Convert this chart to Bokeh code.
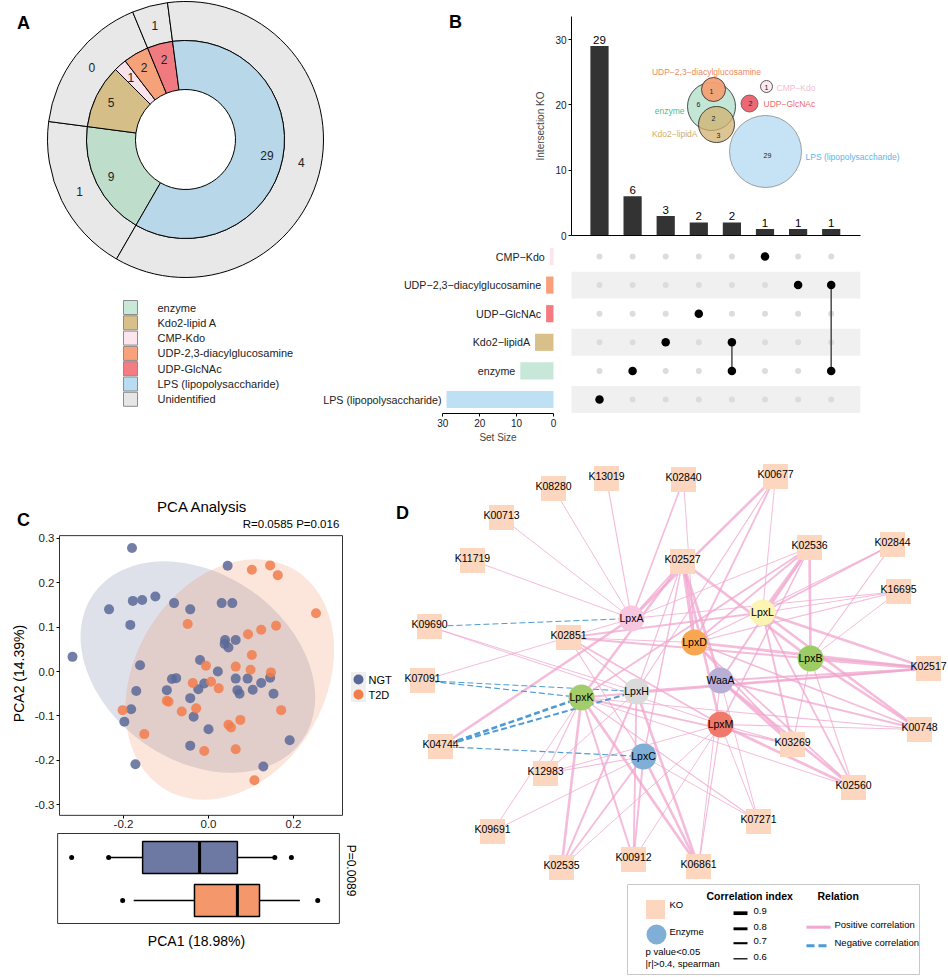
import numpy as np
from bokeh.plotting import figure
from bokeh.models import Range1d, LinearAxis, FixedTicker, PrintfTickFormatter, ColumnDataSource
from bokeh.core.properties import value
from bokeh.embed import file_html
from bokeh.resources import INLINE

FONT = "Liberation Sans"

# ================= DATA =================
# ---- Panel A : donut ----
pie_labels = ["enzyme", "Kdo2-lipid A", "CMP-Kdo", "UDP-2,3-diacylglucosamine",
              "UDP-GlcNAc", "LPS (lipopolysaccharide)"]
pie_values = [9, 5, 1, 2, 2, 29]
pie_colors = ["#BFDDCB", "#D6BE88", "#F9E3EB", "#F5A27B", "#F17A81", "#B8D8EA"]
outer_members = [[0], [1, 2, 3], [4], [5]]      # inner categories covered by each outer segment
outer_values = [1, 0, 1, 4]                     # unidentified counts
unident_color = "#E8E8E8"
legend_a_labels = pie_labels + ["Unidentified"]
legend_a_colors = ["#C8E8D8", "#D9C08A", "#FCE6EE", "#F7A27A", "#F47C84", "#B9DCF2", "#E6E6E6"]

# ---- Panel B : UpSet ----
set_names = ["CMP\u2212Kdo", "UDP\u22122,3\u2212diacylglucosamine", "UDP\u2212GlcNAc",
             "Kdo2\u2212lipidA", "enzyme", "LPS (lipopolysaccharide)"]
set_sizes = [1, 2, 2, 5, 9, 29]
set_colors = ["#FCE4EC", "#F8A07A", "#F47B82", "#D9C08A", "#C7E8D8", "#BEE0F5"]
inter_sizes = [29, 6, 3, 2, 2, 1, 1, 1]
inter_sets = [[5], [4], [3], [2], [3, 4], [0], [1], [1, 4]]   # indices into set_names
venn_names = ["enzyme", "Kdo2\u2212lipidA", "UDP\u22122,3\u2212diacylglucosamine",
              "LPS (lipopolysaccharide)", "CMP\u2212Kdo", "UDP\u2212GlcNAc"]
venn_region_counts = ["6", "2", "3", "1", "29", "1", "2"]

# ---- Panel C : PCA ----
ngt_pc1 = [-0.180, 0.045, -0.234, -0.178, -0.156, -0.125, -0.081, -0.184, -0.043, 0.031, 0.056,
           -0.320, -0.161, 0.039, 0.064, 0.038, 0.047, -0.020, 0.022, -0.086, -0.076, -0.170,
           -0.098, -0.024, -0.010, -0.043, 0.064, 0.092, 0.068, 0.073, 0.104, 0.124, 0.145,
           0.153, -0.182, -0.198, -0.035, 0.000, -0.043, 0.191, -0.172, 0.129]
ngt_pc2 = [0.278, 0.238, 0.140, 0.159, 0.161, 0.169, 0.154, 0.105, 0.140, 0.154, 0.154,
           0.033, 0.014, 0.071, 0.071, 0.062, 0.054, 0.026, 0.000, -0.017, -0.015, -0.044,
           -0.042, -0.040, -0.027, -0.060, -0.016, -0.016, -0.042, -0.050, -0.041, -0.026,
           -0.014, -0.050, -0.085, -0.113, -0.102, -0.130, -0.167, -0.155, -0.209, -0.214]
t2d_pc1 = [0.102, 0.145, 0.163, 0.253, -0.049, 0.093, 0.124, 0.159, 0.102, -0.006, 0.064,
           0.099, 0.147, -0.037, 0.006, 0.024, -0.094, -0.098, -0.202, -0.063, -0.029, 0.171,
           -0.151, 0.047, 0.053, 0.075, -0.010, 0.064, 0.108]
t2d_pc2 = [0.229, 0.239, 0.217, 0.131, 0.107, 0.084, 0.094, 0.103, 0.037, 0.013, 0.011,
           0.004, -0.002, -0.026, -0.023, -0.038, -0.068, -0.066, -0.087, -0.090, -0.083,
           -0.087, -0.141, -0.120, -0.126, -0.109, -0.179, -0.175, -0.245]
# confidence ellipses: centre x, centre y, semi-major, semi-minor, angle (deg)
ell_ngt = [-0.025, 0.010, 0.300, 0.210, -35]
ell_t2d = [0.050, -0.018, 0.300, 0.215, 60]
groups = ["NGT", "T2D"]
group_colors = ["#5A6898", "#F27C4C"]
box_fill = ["#6D79A3", "#F4976A"]
# boxplot of PCA1: low whisker, q1, median, q3, high whisker
box_stats = [[-0.235, -0.155, -0.021, 0.068, 0.156],
             [-0.176, -0.033, 0.068, 0.120, 0.215]]
box_points = [[-0.322, -0.235, 0.156, 0.195], [-0.202, 0.257]]

# ---- Panel D : network ----
ko_names = ["K13019", "K08280", "K02840", "K00677", "K00713", "K11719", "K02527", "K02536",
            "K02844", "K16695", "K09690", "K02851", "K02517", "K07091", "K00748", "K04744",
            "K03269", "K12983", "K02560", "K07271", "K09691", "K02535", "K00912", "K06861"]
enzyme_names = ["LpxA", "LpxL", "LpxD", "LpxB", "WaaA", "LpxK", "LpxH", "LpxM", "LpxC"]
enzyme_colors = ["#F7C6DF", "#FBF4B3", "#F9A650", "#9DCB64", "#B8AED6", "#A2CD6A",
                 "#DADADA", "#F0796B", "#7FAED7"]
edge_ko = ["K13019", "K08280", "K02840", "K02840", "K00677", "K00677", "K00677", "K00677",
           "K00713", "K11719",
           "K02527", "K02527", "K02527", "K02527", "K02527", "K02527", "K02527", "K02527",
           "K02536", "K02536", "K02536", "K02536", "K02536", "K02536", "K02536",
           "K02844", "K02844", "K02844", "K16695", "K16695", "K16695", "K16695",
           "K09690", "K09690", "K09690",
           "K02851", "K02851", "K02851", "K02851", "K02851", "K02851",
           "K02517", "K02517", "K02517", "K02517", "K02517", "K02517",
           "K07091", "K07091", "K07091",
           "K00748", "K00748", "K00748", "K00748", "K00748", "K00748",
           "K04744", "K04744", "K04744", "K04744",
           "K03269", "K03269", "K03269", "K03269", "K03269", "K03269",
           "K12983", "K12983", "K12983", "K12983",
           "K02560", "K02560", "K02560", "K02560", "K02560", "K02560",
           "K07271", "K07271", "K07271", "K07271", "K09691", "K09691",
           "K02535", "K02535", "K02535", "K02535", "K00912", "K00912", "K00912", "K00912",
           "K06861", "K06861", "K06861", "K06861", "K06861"]
edge_enzyme = ["LpxA", "LpxA", "LpxA", "LpxD", "LpxA", "LpxD", "LpxL", "LpxH",
               "LpxA", "LpxA",
               "LpxD", "WaaA", "LpxM", "LpxK", "LpxA", "LpxB", "LpxH", "LpxC",
               "LpxL", "LpxD", "LpxB", "LpxK", "WaaA", "LpxA", "LpxM",
               "LpxL", "LpxD", "LpxB", "LpxA", "LpxD", "LpxL", "LpxB",
               "LpxA", "LpxH", "LpxM",
               "LpxL", "LpxB", "LpxM", "LpxC", "LpxD", "LpxH",
               "LpxD", "LpxL", "LpxB", "LpxK", "LpxH", "WaaA",
               "LpxH", "LpxK", "LpxA",
               "LpxL", "LpxB", "LpxD", "WaaA", "LpxM", "LpxK",
               "LpxK", "LpxH", "LpxC", "LpxA",
               "LpxL", "WaaA", "LpxK", "LpxD", "LpxM", "LpxB",
               "LpxH", "LpxK", "LpxM", "LpxC",
               "WaaA", "LpxM", "LpxL", "LpxB", "LpxD", "LpxK",
               "LpxC", "LpxK", "LpxM", "WaaA", "LpxK", "LpxC",
               "LpxK", "LpxH", "LpxC", "LpxM", "LpxK", "LpxH", "LpxC", "LpxM",
               "LpxK", "LpxH", "LpxC", "WaaA", "LpxM"]
edge_r = [0.62, 0.60, 0.68, 0.60, 0.80, 0.70, 0.60, 0.62,
          0.60, 0.60,
          0.90, 0.82, 0.80, 0.78, 0.70, 0.82, 0.62, 0.65,
          0.90, 0.72, 0.80, 0.70, 0.72, 0.60, 0.68,
          0.72, 0.62, 0.62, 0.60, 0.62, 0.60, 0.60,
          -0.60, 0.60, 0.60,
          0.70, 0.72, 0.70, 0.62, 0.60, 0.62,
          0.82, 0.80, 0.90, 0.72, 0.70, 0.72,
          -0.60, -0.62, 0.60,
          0.80, 0.80, 0.70, 0.72, 0.62, 0.62,
          -0.80, -0.72, -0.62, 0.80,
          0.72, 0.82, 0.70, 0.70, 0.62, 0.62,
          0.60, 0.62, 0.60, 0.62,
          0.80, 0.82, 0.70, 0.62, 0.70, 0.60,
          0.60, 0.62, 0.60, 0.60, 0.60, 0.60,
          0.80, 0.72, 0.70, 0.60, 0.72, 0.70, 0.72, 0.60,
          0.82, 0.80, 0.80, 0.60, 0.62]
corr_legend = [0.9, 0.8, 0.7, 0.6]

# ================= LAYOUT (reference pixel positions) =================
X0, X1, Y0, Y1 = 0, 948, 0, 977
pie_c = (185, 139)
pie_r = (50, 99, 138)
pie_start_deg = 210
legend_a_pos = (130, 307, 15.3)
venn_circles = [  # x, y, r, fill, alpha, line
    (711, 106, 24, "#C3E6D6", 1.0, "#222222"),
    (716, 124, 18, "#D2B06E", 0.75, "#222222"),
    (713, 89, 12, "#F4A074", 0.95, "#222222"),
    (765, 151, 36, "#C6E3F6", 1.0, "#8A8A8A"),
    (766, 86, 6, "#FBEAF0", 1.0, "#333333"),
    (749, 103, 8.5, "#EC6873", 1.0, "#555555")]
venn_label_pos = [(684, 110, "right", "#45BE92"), (697, 133, "right", "#D2AE68"),
                  (706, 71, "center", "#F08A5D"), (805, 156, "left", "#5BB5EC"),
                  (776, 87, "left", "#F4BCD0"), (763, 103, "left", "#EE6A70")]
venn_count_pos = [(698, 104), (713, 118), (718, 135), (711, 91), (767, 155), (766, 87), (750, 103)]
ko_xy = {"K13019": (606, 478), "K08280": (553, 488), "K02840": (683, 479), "K00677": (775, 476),
         "K00713": (501, 517), "K11719": (472, 560), "K02527": (682, 561), "K02536": (809, 547),
         "K02844": (892, 544), "K16695": (898, 591), "K09690": (429, 626), "K02851": (568, 637),
         "K02517": (928, 668), "K07091": (422, 680), "K00748": (919, 729), "K04744": (440, 746),
         "K03269": (792, 744), "K12983": (545, 773), "K02560": (853, 787), "K07271": (758, 821),
         "K09691": (492, 831), "K02535": (561, 867), "K00912": (633, 859), "K06861": (698, 866)}
enzyme_xy = {"LpxA": (631, 618), "LpxL": (762, 612), "LpxD": (694, 642), "LpxB": (810, 658),
             "WaaA": (720, 680), "LpxK": (581, 697), "LpxH": (636, 691), "LpxM": (720, 724),
             "LpxC": (643, 756)}


def hrange(v_at, px_at, ppu):
    return Range1d(v_at + (X0 - px_at) / ppu, v_at + (X1 - px_at) / ppu)


def vrange(v_at, px_at, ppu):
    return Range1d(v_at + (px_at - Y1) / ppu, v_at + (px_at - Y0) / ppu)


p = figure(width=X1 - X0, height=Y1 - Y0, x_range=Range1d(X0, X1), y_range=Range1d(Y1, Y0),
           x_axis_type=None, y_axis_type=None, toolbar_location=None, output_backend="svg",
           min_border=0, outline_line_color=None, background_fill_color="white",
           border_fill_color="white")

BX_PPU = 33.1
p.extra_x_ranges = {"bx": hrange(1, 599, BX_PPU), "sx": hrange(0, 553, -3.69),
                    "cx": hrange(0, 208, 425.0)}
p.extra_y_ranges = {"by": vrange(0, 235, 6.533), "ry": vrange(6, 256, 28.6),
                    "cy": vrange(0, 671, 444.0), "bb": vrange(1, 900, 43.0),
                    "up": Range1d(-Y1, -Y0)}


def txt(x, y, s, size="11px", align="center", baseline="middle", color="black",
        style="normal", angle=0.0, xr="default", yr="default", xo=0, yo=0):
    if not isinstance(x, (list, tuple, np.ndarray)):
        x, y, s = [x], [y], [s]
    src = ColumnDataSource(dict(x=list(x), y=list(y), t=[str(v) for v in s]))
    p.text(x="x", y="y", text="t", source=src, text_font=value(FONT), text_font_size=size,
           text_align=align, text_baseline=baseline, text_color=color,
           text_font_style=style, angle=angle, x_range_name=xr, y_range_name=yr,
           x_offset=xo, y_offset=yo)


def style_axis(ax, size="11px"):
    ax.major_label_text_font = FONT
    ax.major_label_text_font_size = size
    ax.major_label_text_color = "#1a1a1a"
    ax.axis_label_text_font = FONT
    ax.axis_label_text_font_style = "normal"
    ax.minor_tick_line_color = None
    ax.major_tick_in = 0
    ax.major_tick_out = 3
    ax.major_label_standoff = 2


# ================= PANEL A =================
tot = float(sum(pie_values))
cum = np.concatenate([[0.0], np.cumsum(pie_values)])
th_s = pie_start_deg + cum[:-1] / tot * 360.0
th_e = pie_start_deg + cum[1:] / tot * 360.0
pcx, pcy = pie_c[0], -pie_c[1]
o_s = np.array([th_s[m[0]] for m in outer_members])
o_e = np.array([th_e[m[-1]] for m in outer_members])
p.annular_wedge(x=pcx, y=pcy, inner_radius=pie_r[1], outer_radius=pie_r[2],
                start_angle=np.deg2rad(90 - o_e), end_angle=np.deg2rad(90 - o_s),
                fill_color=unident_color, line_color="black", line_width=1, y_range_name="up")
p.annular_wedge(x=pcx, y=pcy, inner_radius=pie_r[0], outer_radius=pie_r[1],
                start_angle=np.deg2rad(90 - th_e), end_angle=np.deg2rad(90 - th_s),
                fill_color=pie_colors, line_color="black", line_width=1, y_range_name="up")
mid = np.deg2rad((th_s + th_e) / 2)
txt(list(pcx + 83 * np.sin(mid)), list(pcy + 83 * np.cos(mid)), pie_values, size="12px",
    yr="up", color="#222222")
omid = np.deg2rad((o_s + o_e) / 2)
txt(list(pcx + 118 * np.sin(omid)), list(pcy + 118 * np.cos(omid)), outer_values, size="12px",
    yr="up", color="#222222")
lx, ly0, ldy = legend_a_pos
ly = [ly0 + k * ldy for k in range(len(legend_a_labels))]
p.rect(x=[lx] * len(ly), y=ly, width=14, height=14, fill_color=legend_a_colors,
       line_color="#8C8C8C", line_width=1)
txt([lx + 27] * len(ly), ly, legend_a_labels, size="11px", align="left", color="#222222")
txt(23, 22, "A", size="18px", style="bold")

# ================= PANEL B =================
cols = list(range(1, len(inter_sizes) + 1))
bx_left = 1 + (571 - 599) / BX_PPU
bx_right = len(cols) + 0.88
p.vbar(x=cols, top=inter_sizes, bottom=0, width=0.55, fill_color="#333333", line_color=None,
       x_range_name="bx", y_range_name="by")
txt(cols, inter_sizes, inter_sizes, size="11.5px", baseline="bottom", xr="bx", yr="by", yo=-2)
yax = LinearAxis(x_range_name="bx", y_range_name="by", fixed_location=bx_left,
                 bounds=(0, 33.5), ticker=FixedTicker(ticks=[0, 10, 20, 30]),
                 axis_label="Intersection KO", axis_label_standoff=6,
                 axis_label_text_font_size="10px")
style_axis(yax, "10px")
p.add_layout(yax, "left")
xax = LinearAxis(x_range_name="bx", y_range_name="by", fixed_location=0,
                 bounds=(bx_left, bx_right), ticker=FixedTicker(ticks=[]),
                 major_label_text_font_size="0px", major_tick_line_color=None,
                 minor_tick_line_color=None)
p.add_layout(xax, "below")

rows = [6 - k for k in range(len(set_names))]
band_rows = [r for k, r in enumerate(rows) if k % 2 == 1]
p.hbar(y=band_rows, left=bx_left, right=bx_right, height=0.94, fill_color="#F0F0F0",
       line_color=None, x_range_name="bx", y_range_name="ry")
gx = [c for c in cols for _ in rows]
gy = [r for _ in cols for r in rows]
p.scatter(x=gx, y=gy, size=6, fill_color="#DCDCDC", line_color=None,
          x_range_name="bx", y_range_name="ry")
seg_x, seg_y0, seg_y1, ax_, ay_ = [], [], [], [], []
for c, members in zip(cols, inter_sets):
    rr = [rows[m] for m in members]
    if len(rr) > 1:
        seg_x.append(c); seg_y0.append(min(rr)); seg_y1.append(max(rr))
    for r in rr:
        ax_.append(c); ay_.append(r)
p.segment(x0=seg_x, x1=seg_x, y0=seg_y0, y1=seg_y1, line_color="#555555", line_width=1.6,
          x_range_name="bx", y_range_name="ry")
p.scatter(x=ax_, y=ay_, size=8.5, fill_color="black", line_color=None,
          x_range_name="bx", y_range_name="ry")
p.hbar(y=rows, left=0, right=set_sizes, height=0.6, fill_color=set_colors, line_color=None,
       x_range_name="sx", y_range_name="ry")
txt(set_sizes, rows, set_names, size="10.7px", align="right", xr="sx", yr="ry", xo=-5,
    color="#222222")
sax = LinearAxis(x_range_name="sx", y_range_name="ry", fixed_location=0.5, bounds=(0, 30),
                 ticker=FixedTicker(ticks=[0, 10, 20, 30]), axis_label="Set Size",
                 axis_label_standoff=2, axis_label_text_font_size="10px")
style_axis(sax, "10px")
p.add_layout(sax, "below")
for (vx, vy, vr, vf, va, vl) in venn_circles:
    p.circle(x=[vx], y=[vy], radius=vr, fill_color=vf, fill_alpha=va, line_color=vl,
             line_width=0.8)
for name, (vx, vy, al, col) in zip(venn_names, venn_label_pos):
    txt(vx, vy, name, size="8.5px", align=al, color=col)
txt([q[0] for q in venn_count_pos], [q[1] for q in venn_count_pos], venn_region_counts,
    size="7px", color="#222222")
txt(455, 21, "B", size="18px", style="bold")

# ================= PANEL C =================
CX_L, CX_R, CY_B, CY_T = -0.3506, 0.3153, -0.324, 0.306
for (ex, ey, ea, eb, eang), col in zip([ell_ngt, ell_t2d], group_colors):
    p.ellipse(x=[ex], y=[ey], width=2 * ea, height=2 * eb, angle=np.deg2rad(eang),
              fill_color=col, fill_alpha=0.2, line_color=None, x_range_name="cx",
              y_range_name="cy")
p.scatter(x=ngt_pc1, y=ngt_pc2, size=10, fill_color=group_colors[0], fill_alpha=0.85,
          line_color=None, x_range_name="cx", y_range_name="cy")
p.scatter(x=t2d_pc1, y=t2d_pc2, size=10, fill_color=group_colors[1], fill_alpha=0.85,
          line_color=None, x_range_name="cx", y_range_name="cy")
p.quad(left=CX_L, right=CX_R, bottom=CY_B, top=CY_T, fill_color=None, line_color="#333333",
       line_width=1, x_range_name="cx", y_range_name="cy")
lax = LinearAxis(x_range_name="cx", y_range_name="cy", fixed_location=CX_L,
                 ticker=FixedTicker(ticks=[-0.3, -0.2, -0.1, 0.0, 0.1, 0.2, 0.3]),
                 formatter=PrintfTickFormatter(format="%.1f"), axis_line_color=None)
style_axis(lax, "11.5px")
p.add_layout(lax, "left")
bax = LinearAxis(x_range_name="cx", y_range_name="cy", fixed_location=CY_B,
                 ticker=FixedTicker(ticks=[-0.2, 0.0, 0.2]),
                 formatter=PrintfTickFormatter(format="%.1f"), axis_line_color=None)
style_axis(bax, "11.5px")
p.add_layout(bax, "below")
txt(202, 506, "PCA Analysis", size="15px")
txt(342, 523, "R=0.0585  P=0.016", size="11.5px", align="right")
txt(18, -673, "PCA2 (14.39%)", size="14px", angle=np.pi / 2, yr="up")
p.rect(x=[358], y=[686.5], width=15, height=30, fill_color="#EFEFEF", line_color=None)
p.scatter(x=[358, 358], y=[679, 694], size=10, fill_color=group_colors, line_color=None)
txt([368, 368], [679, 694], groups, size="11px", align="left")
box_rows = [2, 1]
for row, st, fc, pts in zip(box_rows, box_stats, box_fill, box_points):
    lo, q1, med, q3, hi = st
    p.segment(x0=[lo, q3], x1=[q1, hi], y0=[row, row], y1=[row, row], line_color="black",
              line_width=1.5, x_range_name="cx", y_range_name="bb")
    p.quad(left=q1, right=q3, bottom=row - 0.37, top=row + 0.37, fill_color=fc,
           line_color="black", line_width=1.5, x_range_name="cx", y_range_name="bb")
    p.segment(x0=[med], x1=[med], y0=[row - 0.37], y1=[row + 0.37], line_color="black",
              line_width=3, x_range_name="cx", y_range_name="bb")
    p.scatter(x=pts, y=[row] * len(pts), size=5, fill_color="black", line_color=None,
              x_range_name="cx", y_range_name="bb")
p.quad(left=-0.355, right=0.308, bottom=1 + (900 - 923) / 43.0, top=1 + (900 - 833) / 43.0,
       fill_color=None, line_color="#333333", line_width=1, x_range_name="cx",
       y_range_name="bb")
txt(350, -870, "P=0.0089", size="12px", angle=-np.pi / 2, yr="up")
txt(196, 940, "PCA1 (18.98%)", size="14px")
txt(23, 519, "C", size="18px", style="bold")

# ================= PANEL D =================
def ewidth(r):
    return 1.0 + (abs(r) - 0.6) * 8.0


pos = [(k, e, r) for k, e, r in zip(edge_ko, edge_enzyme, edge_r) if r > 0]
neg = [(k, e, r) for k, e, r in zip(edge_ko, edge_enzyme, edge_r) if r < 0]
for sel, col, dash, alpha in [(pos, "#F0A6CE", "solid", 0.75), (neg, "#4C9BD6", "6 3", 1.0)]:
    src = ColumnDataSource(dict(
        x0=[ko_xy[k][0] for k, e, r in sel], y0=[ko_xy[k][1] for k, e, r in sel],
        x1=[enzyme_xy[e][0] for k, e, r in sel], y1=[enzyme_xy[e][1] for k, e, r in sel],
        w=[ewidth(r) for k, e, r in sel]))
    p.segment(x0="x0", y0="y0", x1="x1", y1="y1", line_width="w", line_color=col,
              line_alpha=alpha, line_dash=dash, source=src)
p.scatter(x=[ko_xy[k][0] for k in ko_names], y=[ko_xy[k][1] for k in ko_names], marker="square",
          size=25, fill_color="#FCD6BF", line_color=None)
p.scatter(x=[enzyme_xy[e][0] for e in enzyme_names], y=[enzyme_xy[e][1] for e in enzyme_names],
          size=26, fill_color=enzyme_colors, line_color=None)
txt([ko_xy[k][0] for k in ko_names], [ko_xy[k][1] - 3 for k in ko_names], ko_names,
    size="10.5px")
txt([enzyme_xy[e][0] for e in enzyme_names], [enzyme_xy[e][1] - 1 for e in enzyme_names],
    enzyme_names, size="10.5px")
txt(402, 512, "D", size="18px", style="bold")
# legend D
p.quad(left=627, right=919, top=884, bottom=974, fill_color="white", line_color="#C8C8C8",
       line_width=1)
p.scatter(x=[655], y=[909], marker="square", size=19, fill_color="#FCD6BF", line_color=None)
p.scatter(x=[656], y=[934], size=20, fill_color="#7FAED7", line_color=None)
txt([669, 669], [904, 931], ["KO", "Enzyme"], size="9.5px", align="left")
txt([645, 645], [951, 963], ["p value<0.05", "|r|>0.4, spearman"], size="9.5px", align="left")
txt([706, 817], [895, 895], ["Correlation index", "Relation"], size="10.5px", style="bold",
    align="left")
ly_c = [912.7, 928.3, 942.7, 958.3]
p.segment(x0=[733] * 4, x1=[747] * 4, y0=ly_c, y1=ly_c, line_color="black",
          line_width=[ewidth(r) + 0.3 for r in corr_legend])
txt([753] * 4, [y - 2 for y in ly_c], ["%.1f" % r for r in corr_legend], size="9.5px",
    align="left")
p.segment(x0=[806], x1=[830], y0=[926.7], y1=[926.7], line_color="#F0A6CE", line_width=3)
p.segment(x0=[806], x1=[830], y0=[945.3], y1=[945.3], line_color="#4C9BD6", line_width=3,
          line_dash="8 4")
txt([834, 834], [923.5, 942], ["Positive correlation", "Negative correlation"], size="9.5px",
    align="left")

open("out.html", "w").write(file_html(p, INLINE))
